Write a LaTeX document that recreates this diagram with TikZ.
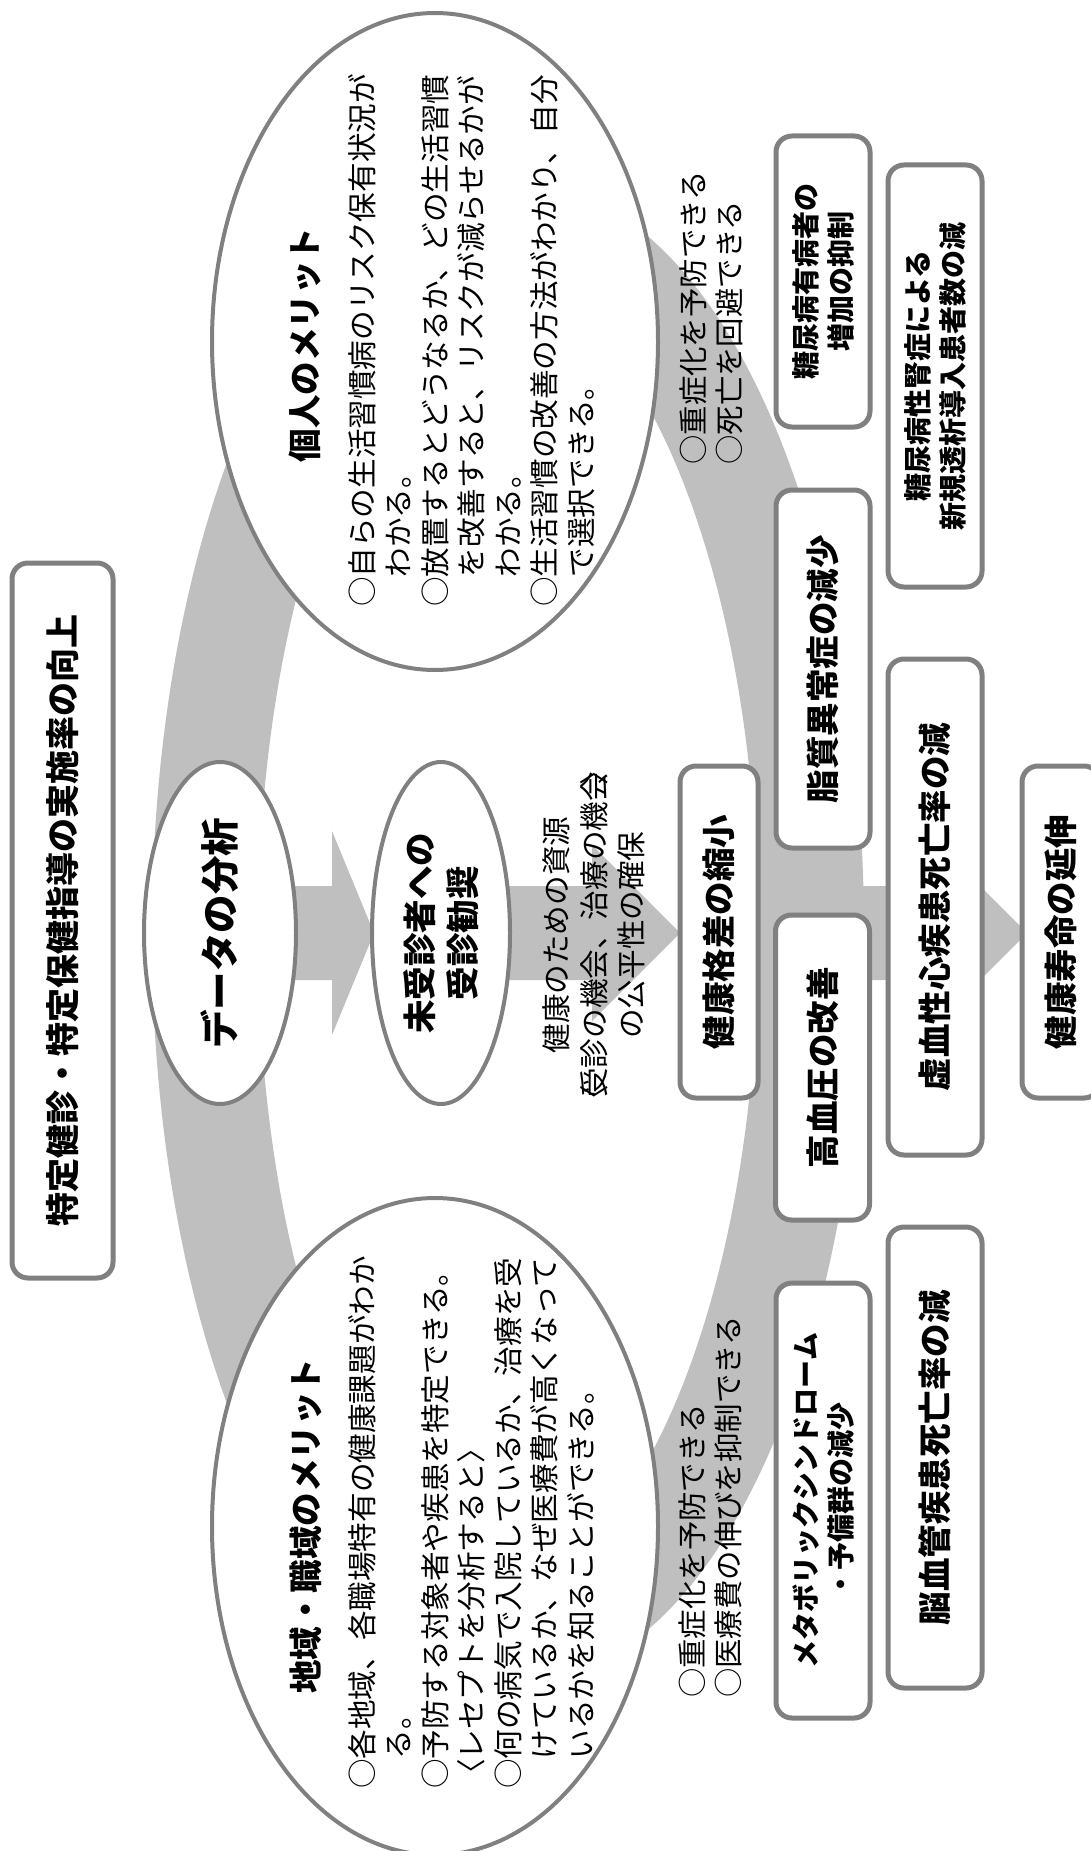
\documentclass[tikz,border=0pt]{standalone}
\usepackage{fontspec}
\newfontfamily\jp{Noto Sans CJK JP}
\usetikzlibrary{shapes.geometric}
\definecolor{ringgrey}{RGB}{191,191,191}
\definecolor{edgegrey}{RGB}{128,128,128}
\tikzset{
  ringband/.style={draw=ringgrey, line width=106pt},
  blockarrow/.style={fill=ringgrey, draw=none},
  oval/.style={ellipse, draw=edgegrey, line width=4pt, fill=white, inner sep=0pt, rotate=90, align=center},
  rbox/.style={draw=edgegrey, line width=5pt, fill=white, rounded corners=16pt, inner sep=0pt, rotate=90, align=center},
  bigtxt/.style={font=\jp\bfseries\fontsize{33.5}{40}\selectfont},
  twotxt/.style={font=\jp\bfseries\fontsize{28}{35}\selectfont},
  bodytxt/.style={rotate=90, align=left, inner sep=0pt, font=\jp\fontsize{29.6}{36.5}\selectfont},
  headtxt/.style={rotate=90, inner sep=0pt, font=\jp\bfseries\fontsize{33.5}{40}\selectfont},
}
\begin{document}
\begin{tikzpicture}[x=1pt,y=-1pt]
\useasboundingbox (0,0) rectangle (1091,1851);
% grey ring
\draw[ringband] (508,933) ellipse [x radius=303, y radius=700];
% block arrows
\fill[blockarrow] (220,886) -- (332,886) -- (332,831) -- (374,933) -- (332,1035) -- (332,980) -- (220,980) -- cycle;
\fill[blockarrow] (441,886) -- (592,886) -- (592,845) -- (680,933) -- (592,1021) -- (592,980) -- (441,980) -- cycle;
\fill[blockarrow] (719,886) -- (937,886) -- (937,843) -- (1027,933) -- (937,1023) -- (937,980) -- (719,980) -- cycle;
% ellipses
\node[oval, minimum width=657, minimum height=446] (kojin) at (435,341.5) {};
\node[oval, minimum width=657, minimum height=446] (chiiki) at (435,1526.5) {};
\node[oval, minimum width=342, minimum height=152, font=\jp\bfseries\fontsize{38.5}{44}\selectfont] (data) at (220,933) {データの分析};
\node[oval, minimum width=342, minimum height=138, font=\jp\bfseries\fontsize{33.5}{43}\selectfont] (jushin) at (441,933) {未受診者への\\受診勧奨};
% ellipse texts
\node[headtxt] (kojinhead) at (305,345) {個人のメリット};
\node[bodytxt] (kojinbody) at (471.5,340.5) {○自らの生活習慣病のリスク保有状況が\\　わかる。\\○放置するとどうなるか、どの生活習慣\\　を改善すると、リスクが減らせるかが\\　わかる。\\○生活習慣の改善の方法がわかり、自分\\　で選択できる。};
\node[headtxt] (chiikihead) at (306,1526) {地域・職域のメリット};
\node[bodytxt] (chiikibody) at (471.5,1522.5) {○各地域、各職場特有の健康課題がわか\\　る。\\○予防する対象者や疾患を特定できる。\\〈レセプトを分析すると〉\\○何の病気で入院しているか、治療を受\\　けているか、なぜ医療費が高くなって\\　いるかを知ることができる。};
% middle text
\node[rotate=90, align=center, inner sep=0pt, font=\jp\fontsize{29.6}{37.5}\selectfont] (shigen) at (594,935) {健康のための資源\\〈\kern-0.45em受診の機会、治療の機会\kern-0.45em〉\\の公平性の確保};
% merit lines
\node[bodytxt, font=\jp\fontsize{29.4}{36}\selectfont] (merit1) at (711,318) {○重症化を予防できる\\○死亡を回避できる};
\node[bodytxt, font=\jp\fontsize{29.4}{36}\selectfont] (merit2) at (710.5,1507) {○重症化を予防できる\\○医療費の伸びを抑制できる};
% boxes
\node[rbox, font=\jp\bfseries\fontsize{34}{40}\selectfont, minimum width=715, minimum height=101] (title) at (62.5,920.5) {特定健診・特定保健指導の実施率の向上};
\node[rbox, bigtxt, minimum width=332, minimum height=78] (kakusa) at (719,932) {健康格差の縮小};
\node[rbox, twotxt, minimum width=291, minimum height=94] (tonyo) at (823,281.5) {糖尿病有病者の\\増加の抑制};
\node[rbox, twotxt, minimum width=422, minimum height=94] (jinsho) at (935,376) {糖尿病性腎症による\\新規透析導入患者数の減};
\node[rbox, bigtxt, minimum width=358, minimum height=94] (shishitsu) at (823,669) {脂質異常症の減少};
\node[rbox, bigtxt, minimum width=496, minimum height=94] (kyoketsu) at (935,907) {虚血性心疾患死亡率の減};
\node[rbox, bigtxt, minimum width=305, minimum height=94] (koketsu) at (822.5,1067.5) {高血圧の改善};
\node[rbox, bigtxt, minimum width=332, minimum height=78] (jumyo) at (1061,932) {健康寿命の延伸};
\node[rbox, twotxt, minimum width=435, minimum height=94] (metabo) at (823,1500.5) {メタボリックシンドローム\\・予備群の減少};
\node[rbox, bigtxt, minimum width=461, minimum height=94] (noketsu) at (935,1457.5) {脳血管疾患死亡率の減};
\end{tikzpicture}
\end{document}
